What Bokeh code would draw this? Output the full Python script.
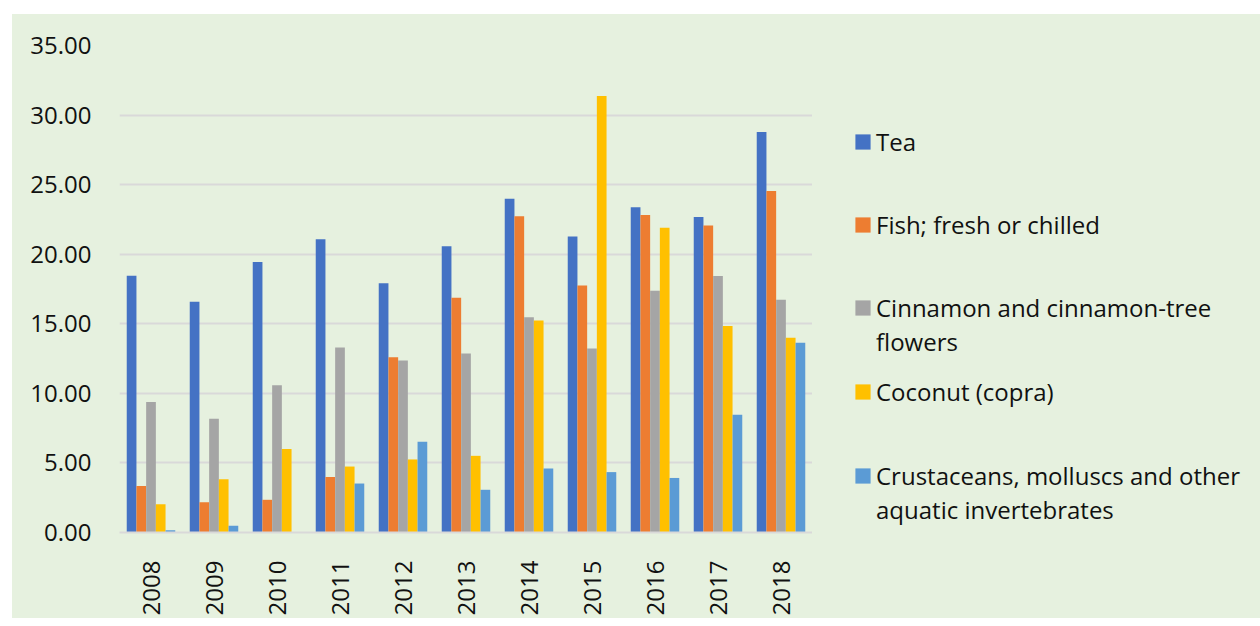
import numpy as np
from bokeh.plotting import figure
from bokeh.models import (ColumnDataSource, FactorRange, Range1d, FixedTicker,
                          NumeralTickFormatter, Legend, LegendItem, Spacer)
from bokeh.transform import dodge
from bokeh.layouts import column, row
from bokeh.embed import file_html
from bokeh.resources import INLINE

years = ["2008", "2009", "2010", "2011", "2012", "2013", "2014", "2015", "2016", "2017", "2018"]
tea = [18.46, 16.59, 19.44, 21.07, 17.92, 20.58, 23.99, 21.28, 23.38, 22.68, 28.78]
fish = [3.34, 2.17, 2.35, 3.99, 12.59, 16.87, 22.73, 17.76, 22.82, 22.07, 24.55]
cinnamon = [9.38, 8.17, 10.58, 13.29, 12.36, 12.87, 15.47, 13.22, 17.38, 18.43, 16.73]
coconut = [2.03, 3.83, 6.00, 4.74, 5.25, 5.51, 15.23, 31.37, 21.90, 14.84, 13.99]
crustaceans = [0.16, 0.49, 0.02, 3.52, 6.53, 3.07, 4.60, 4.34, 3.92, 8.46, 13.64]

# legend labels, one list of lines per series
series_lines = [["Tea"], ["Fish; fresh or chilled"], ["Cinnamon and cinnamon-tree", "flowers"],
                ["Coconut (copra)"], ["Crustaceans, molluscs and other", "aquatic invertebrates"]]
series_keys = ["tea", "fish", "cinnamon", "coconut", "crustaceans"]
colors = ["#4472C4", "#ED7D31", "#A5A5A5", "#FFC000", "#5B9BD5"]

BG = "#E6F1DF"
FONT = "Open Sans"
TXT = "#111111"

src = ColumnDataSource(dict(year=years, tea=tea, fish=fish, cinnamon=cinnamon,
                            coconut=coconut, crustaceans=crustaceans))

p = figure(x_range=FactorRange(*years), y_range=Range1d(0, 35),
           width=800, height=604, output_backend="svg", toolbar_location=None,
           min_border_left=107, min_border_top=31, min_border_bottom=73, min_border_right=0)
p.background_fill_color = BG
p.border_fill_color = BG
p.outline_line_color = None

bw = 0.154
for i, key in enumerate(series_keys):
    p.vbar(x=dodge("year", (i - 2) * bw, range=p.x_range), top=key, width=bw,
           source=src, fill_color=colors[i], line_color=None)

p.yaxis.ticker = FixedTicker(ticks=[0, 5, 10, 15, 20, 25, 30, 35])
p.yaxis.formatter = NumeralTickFormatter(format="0.00")
p.yaxis.axis_line_color = None
p.yaxis.major_tick_line_color = None
p.yaxis.minor_tick_line_color = None
p.yaxis.major_label_standoff = 22
p.yaxis.major_label_text_font = FONT
p.yaxis.major_label_text_font_size = "24px"
p.yaxis.major_label_text_color = TXT

p.xaxis.axis_line_color = "#D9D9D9"
p.xaxis.axis_line_width = 2
p.xaxis.major_tick_line_color = None
p.xaxis.major_label_orientation = np.pi / 2
p.xaxis.major_label_standoff = 22
p.xaxis.major_label_text_font = FONT
p.xaxis.major_label_text_font_size = "24px"
p.xaxis.major_label_text_color = TXT

p.xgrid.grid_line_color = None
p.ygrid.grid_line_color = "#D9D9D9"
p.ygrid.grid_line_width = 2

# legend panel: series drawn as zero-height bars, so only the legend shows
p2 = figure(width=448, height=604, x_range=FactorRange(*years), y_range=Range1d(0, 35),
            output_backend="svg", toolbar_location=None, min_border=0)
p2.background_fill_color = BG
p2.border_fill_color = BG
p2.outline_line_color = None
p2.axis.visible = False
p2.grid.visible = False

# screen y (from panel bottom) of each legend line's box
line_y = [[374], [291], [208, 174], [124], [40, 6]]
for i, lines in enumerate(series_lines):
    key = series_keys[i]
    r = p2.vbar(x="year", top=key, bottom=key, width=bw, source=src,
                fill_color=colors[i], line_color=None)
    ghost = p2.vbar(x="year", top=key, bottom=key, width=bw, source=src,
                    fill_alpha=0, line_color=None)
    for j, text in enumerate(lines):
        lg = Legend(items=[LegendItem(label=text, renderers=[r if j == 0 else ghost])],
                    location=(41, line_y[i][j]), padding=0, spacing=0, margin=0,
                    glyph_width=19, glyph_height=19, label_height=34,
                    label_standoff=4, label_text_font=FONT, label_text_font_size="24px",
                    label_text_color=TXT, background_fill_alpha=0, border_line_color=None)
        p2.add_layout(lg, "center")

layout = column(Spacer(height=14),
                row(Spacer(width=12), row(p, p2, styles={"background-color": BG})))
open("out.html", "w").write(file_html(layout, INLINE))
